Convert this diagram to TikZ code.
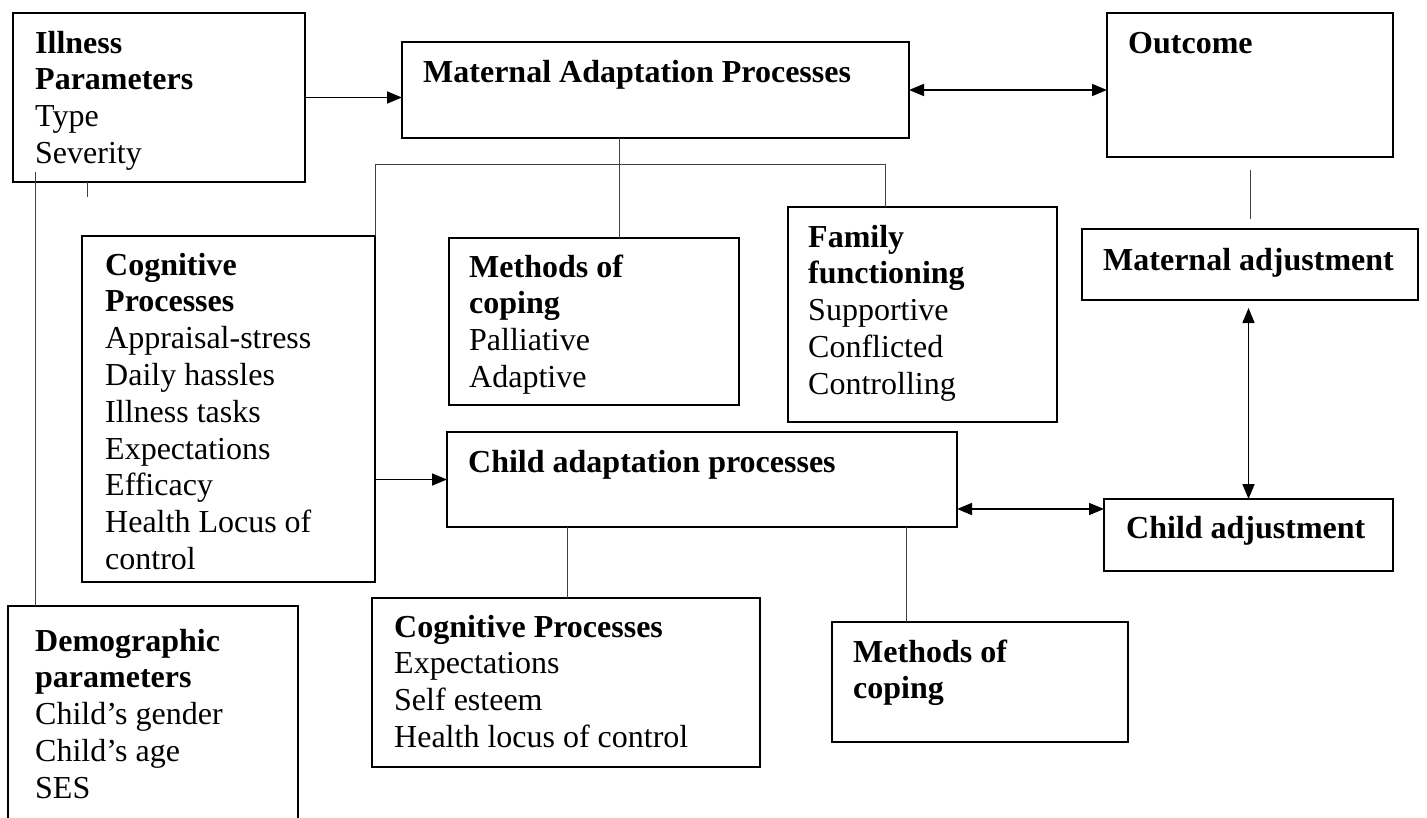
\documentclass[tikz,border=0pt]{standalone}
\usepackage{fontspec}
\setmainfont{Liberation Serif}
\usetikzlibrary{arrows.meta,calc}
\tikzset{
  box/.style={draw, line width=1.3pt, anchor=north west, inner sep=0pt, outer sep=0pt},
  txt/.style={anchor=base west, align=left, inner sep=0pt, font=\fontsize{32}{36.8}\selectfont},
  link/.style={line width=.9pt, draw=black!75},
  arr/.style={line width=1.6pt, -{Triangle[length=15pt,width=12pt]}},
  dbl/.style={line width=1.6pt, {Triangle[length=15pt,width=12pt]}-{Triangle[length=15pt,width=12pt]}},
}
\begin{document}
\begin{tikzpicture}[x=1pt,y=-1pt]
\useasboundingbox (0,0) rectangle (1427,817);
\clip (0,0) rectangle (1427,817);
% boxes
\node[box, minimum width=292pt, minimum height=169pt] (illness) at (13,13) {};
\node[box, minimum width=507pt, minimum height=96pt] (map) at (402,42) {};
\node[box, minimum width=286pt, minimum height=144pt] (outcome) at (1107,13) {};
\node[box, minimum width=336pt, minimum height=71pt] (madj) at (1082,229) {};
\node[box, minimum width=289pt, minimum height=72pt] (cadj) at (1104,499) {};
\node[box, minimum width=293pt, minimum height=346pt] (cogm) at (82,236) {};
\node[box, minimum width=290pt, minimum height=167pt] (mcop) at (449,238) {};
\node[box, minimum width=269pt, minimum height=215pt] (family) at (788,207) {};
\node[box, minimum width=510pt, minimum height=95pt] (cap) at (447,432) {};
\node[box, minimum width=388pt, minimum height=169pt] (cogc) at (372,598) {};
\node[box, minimum width=296pt, minimum height=120pt] (ccop) at (832,622) {};
\node[box, minimum width=290pt, minimum height=240pt] (demo) at (8,606) {};
% texts (base = last line)
\node[txt] (illness-t) at (35,163.4) {\textbf{Illness}\\\textbf{Parameters}\\Type\\Severity};
\node[txt] (map-t) at (423,82) {\textbf{Maternal Adaptation Processes}};
\node[txt] (outcome-t) at (1128,53) {\textbf{Outcome}};
\node[txt] (madj-t) at (1103,270) {\textbf{Maternal adjustment}};
\node[txt] (cadj-t) at (1126,538) {\textbf{Child adjustment}};
\node[txt] (cogm-t) at (105,569.4) {\textbf{Cognitive}\\\textbf{Processes}\\Appraisal-stress\\Daily hassles\\Illness tasks\\Expectations\\Efficacy\\Health Locus of\\control};
\node[txt] (mcop-t) at (469,387.4) {\textbf{Methods of}\\\textbf{coping}\\Palliative\\Adaptive};
\node[txt] (family-t) at (808,394.2) {\textbf{Family}\\\textbf{functioning}\\Supportive\\Conflicted\\Controlling};
\node[txt] (cap-t) at (468,472) {\textbf{Child adaptation processes}};
\node[txt] (cogc-t) at (394,747.4) {\textbf{Cognitive Processes}\\Expectations\\Self esteem\\Health locus of control};
\node[txt] (ccop-t) at (853,698.8) {\textbf{Methods of}\\\textbf{coping}};
\node[txt] (demo-t) at (35,798.2) {\textbf{Demographic}\\\textbf{parameters}\\Child’s gender\\Child’s age\\SES};
% joints
\coordinate (mstem) at (619,164);
\coordinate (fstem) at (885,164);
\coordinate (cstem) at (567,560);
\coordinate (kstem) at (906,560);
\coordinate (lstem) at (35,172);
\coordinate (tick) at (87,197);
\coordinate (cjoin) at ($(cap.south east)+(0,-18)$);
% connectors
\draw[arr] (illness.east) -- (illness.east -| map.west);
\draw[dbl] (map.east) -- (map.east -| outcome.west);
\draw[link] ($(outcome.south)+(0,13)$) -- ($(madj.north)+(0,-10)$);
\draw[dbl, shorten <=8pt] (madj.south -| cadj.north) -- (cadj.north);
\draw[dbl] (cjoin) -- (cjoin -| cadj.west);
\draw[arr] (cap.west -| cogm.east) -- (cap.west);
\draw[link] (cogm.north east) |- (fstem) -- (fstem |- family.north);
\draw[link] (mstem |- map.south) -- (mstem |- mcop.north);
\draw[link] (cstem |- cap.south) -- (cstem |- cogc.north);
\draw[link] (kstem |- cap.south) -- (kstem |- ccop.north);
\draw[link] (lstem) -- (lstem |- demo.north);
\draw[link] (tick |- illness.south) -- (tick);
\end{tikzpicture}
\end{document}
